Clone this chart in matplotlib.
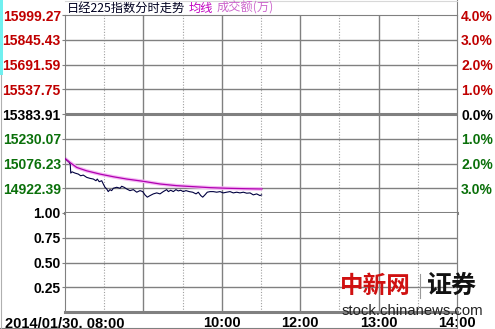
import matplotlib.pyplot as plt
from matplotlib.lines import Line2D
from matplotlib.patches import Rectangle

# minutes since the open (0..300 = whole trading day), price
minutes = [0, 3, 4, 4.4, 5.4, 7.7, 10.2, 12, 14, 16.6, 19.1, 21.7, 23.7, 24.7, 26.2,
           28.1, 29.3, 30.6, 31.9, 33.1, 34.4, 35.7, 37, 39.6, 42.1, 43.4, 45.2, 47.2,
           49.7, 52.3, 54.9, 57.4, 59.5, 61.2, 63, 65.1, 67.6, 70.2, 72.7, 75.2, 77.8,
           79.1, 80.9, 82.9, 84.9, 86.7, 88.5, 90.5, 92.6, 95.1, 97.7, 100.3, 102,
           103.9, 105.4, 107.1, 108.9, 111, 113.5, 116.1, 118.6, 121.1, 123.7, 126.3,
           128.8, 131.4, 133.9, 136.5, 139.1, 141.6, 144.1, 146.7, 149.2, 150.5]
price = [15107.0, 15086.1, 15071.9, 15016.5, 15024.5, 15016.5, 15010.4, 15000.0,
         15004.2, 14990.1, 14983.9, 14979.6, 14969.2, 14979.6, 14963.0, 14969.2,
         14948.9, 14928.5, 14918.1, 14901.5, 14913.8, 14907.6, 14922.4, 14928.5,
         14922.4, 14934.7, 14928.5, 14918.1, 14907.6, 14913.8, 14897.8, 14907.6,
         14901.5, 14881.2, 14867.0, 14876.9, 14887.3, 14893.5, 14887.3, 14901.5,
         14913.8, 14901.5, 14910.1, 14901.5, 14913.8, 14905.8, 14910.1, 14901.5,
         14907.6, 14901.5, 14897.8, 14887.3, 14897.8, 14876.9, 14867.0, 14881.2,
         14897.8, 14901.5, 14901.5, 14897.8, 14901.5, 14893.5, 14897.8, 14901.5,
         14893.5, 14897.8, 14893.5, 14897.8, 14891.6, 14893.5, 14881.2, 14887.3,
         14876.9, 14881.2]

avg_minutes = [0, 3.8, 9, 16.6, 26.8, 37, 47.2, 59.9, 72.7, 85.5, 98.2, 111, 123.7,
               136.5, 149.2, 150.8]
avg_price = [15107.0, 15082.4, 15051.6, 15030.7, 15010.4, 14993.8, 14979.6, 14965.5,
             14948.9, 14938.4, 14932.2, 14926.1, 14922.4, 14919.9, 14918.1, 14918.1]

prev_close = 15383.91
price_levels = [15999.27, 15845.43, 15691.59, 15537.75, 15383.91, 15230.07, 15076.23, 14922.39]
price_labels = ['15999.27', '15845.43', '15691.59', '15537.75', '15383.91', '15230.07', '15076.23', '14922.39']
pct_labels = ['4.0%', '3.0%', '2.0%', '1.0%', '0.0%', '1.0%', '2.0%', '3.0%']
vol_levels = [1.0, 0.75, 0.5, 0.25]
vol_labels = ['1.00', '0.75', '0.50', '0.25']
time_ticks = [0, 120, 180, 240, 300]
time_labels = ['2014/01/30, 08:00', '10:00', '12:00', '13:00', '14:00']
half_hours = [30, 90, 150, 210, 270]
hours = [60, 120, 180, 240]

red = '#c00000'
green = '#0a700a'
grey = '#808080'
lblfont = dict(family='Liberation Sans', weight='bold', size=10)

W, H = 495, 329
fig = plt.figure(figsize=(W / 100, H / 100), dpi=100)
fig.patch.set_facecolor('white')

L, R = 65 / W, 457 / W
ax1 = fig.add_axes([L, (H - 213) / H, R - L, 198 / H])
ax2 = fig.add_axes([L, (H - 312) / H, R - L, 99 / H])

step = 153.84
ax1.set_ylim(prev_close - 4 * step, prev_close + 4 * step + 0.01)
ax2.set_ylim(0, 1)
for ax in (ax1, ax2):
    ax.set_xlim(0, 300)
    for x in hours:
        ax.axvline(x, color=grey, lw=1.0, zorder=1)
    for x in half_hours:
        ax.axvline(x, color='#a0a0a0', lw=0.8, ls=(0, (1, 1.5)), zorder=1)
    for s in ax.spines.values():
        s.set_color(grey)
        s.set_linewidth(0.8)
    ax.tick_params(axis='y', length=2, color=grey, pad=1)

for y in price_levels[1:]:
    ax1.axhline(y, color=grey, lw=2.2 if y == prev_close else 1.0, zorder=1)
ax1.spines['bottom'].set_linewidth(2.2)
for y in vol_levels[1:]:
    ax2.axhline(y, color=grey, lw=1.0, zorder=1)
ax2.spines['top'].set_visible(False)
ax2.spines['bottom'].set_linewidth(2.2)

# price and average lines
ax1.plot(minutes, price, color='#000040', lw=0.8, zorder=3)
ax1.plot(avg_minutes, avg_price, color='#f4b8f4', lw=2.6, zorder=2, solid_capstyle='butt')
ax1.plot(avg_minutes, avg_price, color='#b000b0', lw=0.9, zorder=4)

# left labels
ax1.set_xticks([])
ax1.set_yticks(price_levels)
ax1.set_yticklabels(price_labels, fontdict=lblfont)
for t, y in zip(ax1.get_yticklabels(), price_levels):
    t.set_color(red if y > prev_close else ('black' if y == prev_close else green))

ax1r = ax1.twinx()
ax1r.set_ylim(ax1.get_ylim())
ax1r.set_yticks(price_levels)
ax1r.set_yticklabels(pct_labels, fontdict=lblfont)
for t, y in zip(ax1r.get_yticklabels(), price_levels):
    t.set_color(red if y > prev_close else ('black' if y == prev_close else green))
ax1r.tick_params(axis='y', length=0, pad=3)
for s in ax1r.spines.values():
    s.set_visible(False)

ax2.set_yticks(vol_levels)
ax2.set_yticklabels(vol_labels, fontdict=lblfont)
ax2.set_xticks(time_ticks)
ax2.set_xticklabels(time_labels, fontdict=dict(family='Liberation Sans', weight='bold', size=10.5))
ax2.tick_params(axis='x', length=0, pad=3)

# title row
cjk = ['Noto Sans CJK SC', 'DejaVu Sans']
ty = (H - 8) / H
fig.text(67 / W, ty, '日经225指数分时走势', family=cjk, size=8.8, color='#000020', va='center')
fig.text(189 / W, ty, '均线', family=cjk, size=8.8, color='#c000c0', va='center')
fig.text(217 / W, ty, '成交额(万)', family=cjk, size=8.8, color='#cc66cc', va='center')

# frame pieces outside the axes
fig.add_artist(Line2D([R, R], [0, 1], color=grey, lw=0.8))
fig.add_artist(Line2D([L, R], [1 - 0.5 / H, 1 - 0.5 / H], color='#d8d8d8', lw=0.8))
fig.add_artist(Line2D([0, R], [1.5 / H, 1.5 / H], color=grey, lw=0.8))
fig.add_artist(Line2D([1 / W, 1 / W], [0, (H - 75) / H], color='#b0b0b0', lw=0.8))
fig.add_artist(Rectangle((0, (H - 75) / H), 2.5 / W, 75 / H, color='#70f0f0', lw=0))

# watermark
fig.text(340 / W, (H - 286) / H, '中新网', family=cjk, size=17, weight='bold', color='#d01010', va='center')
fig.add_artist(Line2D([420 / W, 420 / W], [(H - 298) / H, (H - 274) / H], color='#999999', lw=0.8))
fig.text(427 / W, (H - 286) / H, '证券', family=cjk, size=18, weight='black', color='#111111', va='center')
fig.text(342 / W, (H - 311) / H, 'stock.chinanews.com', family='Liberation Sans', size=10.7,
         color='#222222', va='center')

fig.savefig('out.png', dpi=100)
